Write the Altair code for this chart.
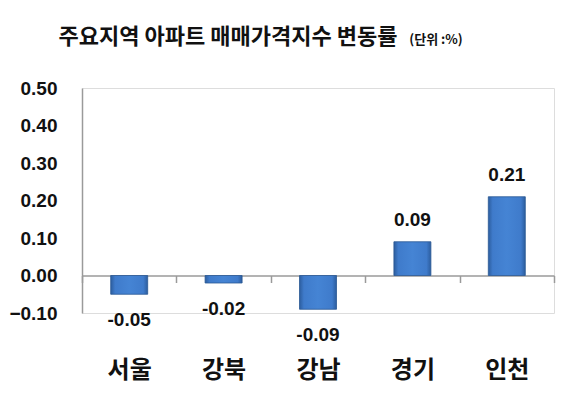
import altair as alt
import pandas as pd

regions = ["서울", "강북", "강남", "경기", "인천"]
changes = [-0.05, -0.02, -0.09, 0.09, 0.21]
y_ticks = [-0.10, 0.00, 0.10, 0.20, 0.30, 0.40, 0.50]
title_text = "주요지역 아파트 매매가격지수 변동률"
unit_text = "(단위 :%)"

df = pd.DataFrame({"region": regions, "change": changes})
df["label"] = [f"{v:.2f}" for v in changes]

KR = "Noto Sans CJK KR"
NUM = "Liberation Sans"

x_enc = alt.X(
    "region:N",
    sort=regions,
    scale=alt.Scale(paddingInner=0, paddingOuter=0),
    axis=alt.Axis(
        title=None, labelAngle=0, tickBand="extent", ticks=True, tickSize=7,
        tickColor="#9a9a9a", domainColor="#9a9a9a", domainWidth=1.5, tickWidth=1.5,
        offset=-37.5, labelPadding=76, labelFont=KR, labelFontSize=24,
        labelFontWeight="bold", labelColor="#111111", grid=False,
    ),
)
y_enc = alt.Y(
    "change:Q",
    scale=alt.Scale(domain=[-0.1, 0.5], nice=False, zero=True),
    axis=alt.Axis(
        title=None, values=y_ticks, format=".2f", ticks=False, grid=False,
        labelOverlap=False, labelBound=False, labelFlush=False,
        domainColor="#9a9a9a", domainWidth=1.5, labelPadding=25,
        labelFont=NUM, labelFontSize=19, labelFontWeight="bold", labelColor="#111111",
    ),
)

grad = alt.Gradient(
    gradient="linear", x1=0, x2=1, y1=0, y2=0,
    stops=[
        alt.GradientStop(offset=0, color="#2c5d9e"),
        alt.GradientStop(offset=0.12, color="#3f7bcb"),
        alt.GradientStop(offset=0.5, color="#4584d4"),
        alt.GradientStop(offset=0.88, color="#3f7bcb"),
        alt.GradientStop(offset=1, color="#2c5d9e"),
    ],
)

base = alt.Chart(df)
bars = base.mark_bar(size=37, color=grad, stroke="#2a5894", strokeWidth=0.8).encode(x=x_enc, y=y_enc)

pos_labels = base.transform_filter("datum.change >= 0").mark_text(
    font=NUM, fontSize=19, fontWeight="bold", color="#111111", dy=-22, baseline="middle"
).encode(x=x_enc, y=y_enc, text="label:N")

neg_labels = base.transform_filter("datum.change < 0").mark_text(
    font=NUM, fontSize=19, fontWeight="bold", color="#111111", dy=26, baseline="middle"
).encode(x=x_enc, y=y_enc, text="label:N")

title_mark = alt.Chart(pd.DataFrame({"t": [title_text]})).mark_text(
    font=KR, fontSize=22, fontWeight="bold", color="#111111", align="center", baseline="middle"
).encode(text="t:N", x=alt.value(146), y=alt.value(-51))

unit_mark = alt.Chart(pd.DataFrame({"t": [unit_text]})).mark_text(
    font=KR, fontSize=13, fontWeight="bold", color="#111111", align="center", baseline="middle"
).encode(text="t:N", x=alt.value(354), y=alt.value(-48))

chart = alt.layer(bars, pos_labels, neg_labels, title_mark, unit_mark).properties(
    width=472, height=225,
    padding={"left": 74, "top": 80, "right": 10, "bottom": 83},
    autosize=alt.AutoSizeParams(type="none"),
).configure_view(stroke=None).configure(background="white")

chart.save("out.html", embed_options={"renderer": "svg", "actions": False})
